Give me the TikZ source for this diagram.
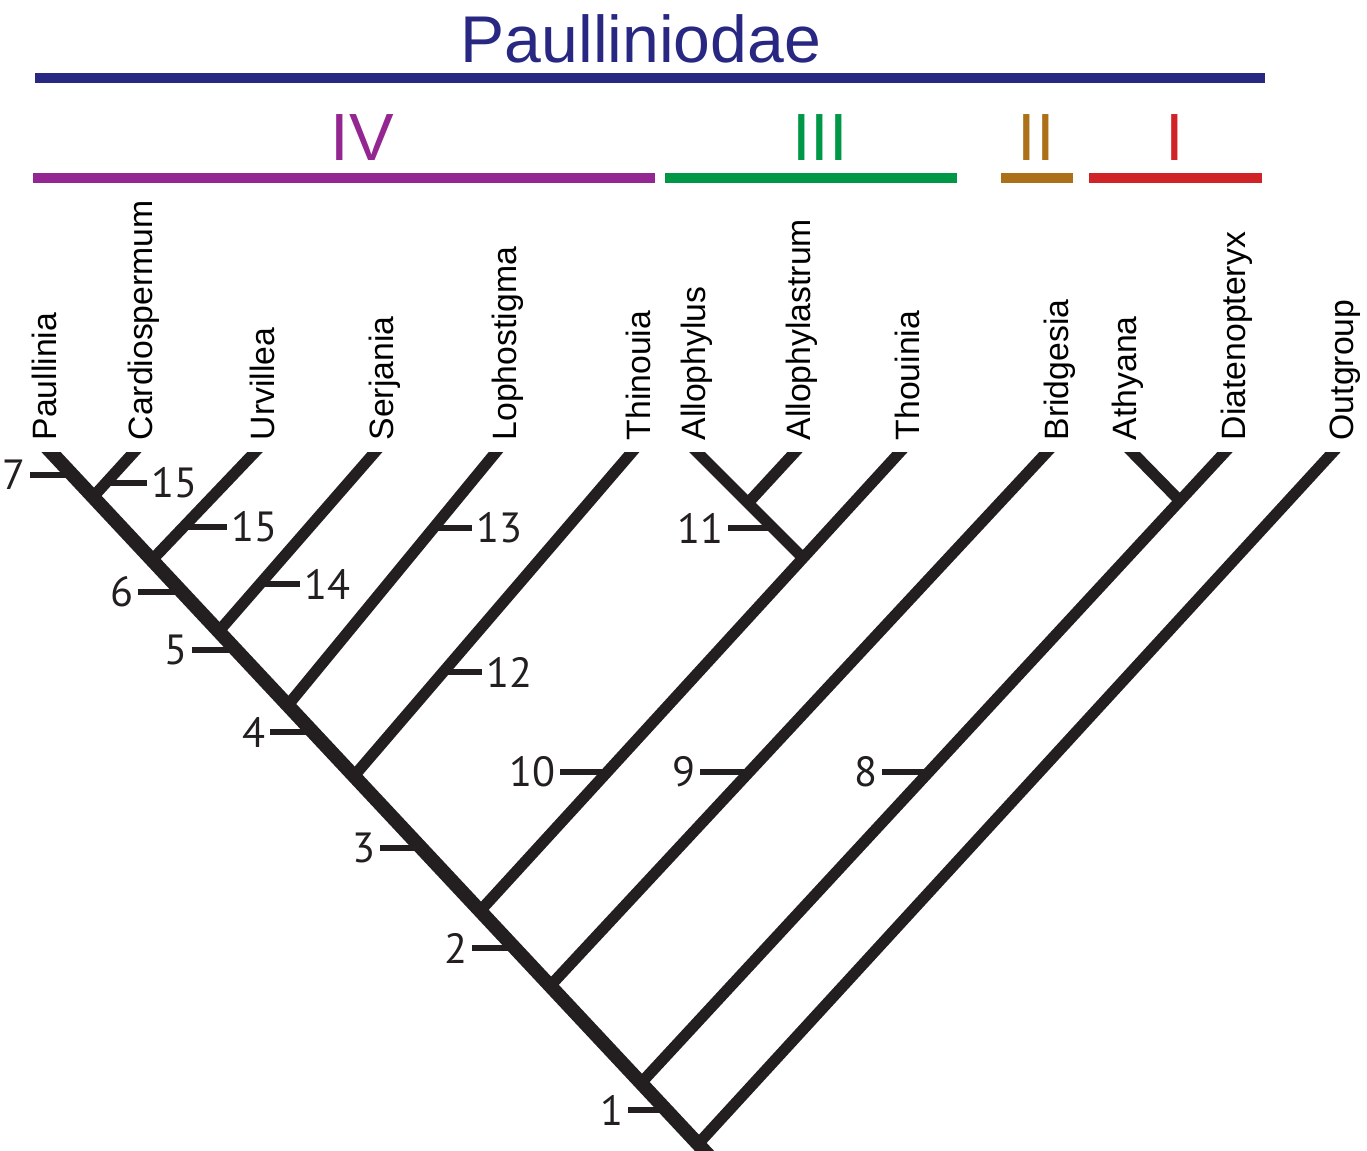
\documentclass[tikz,border=0pt]{standalone}
\usepackage{fontspec}
\setmainfont{Liberation Sans}
\newfontfamily\numfont{PT Sans}
\usetikzlibrary{positioning}
\definecolor{treeblack}{RGB}{35,31,32}
\definecolor{paulblue}{RGB}{40,40,130}
\definecolor{cladeIV}{RGB}{148,38,145}
\definecolor{cladeIII}{RGB}{0,152,70}
\definecolor{cladeII}{RGB}{172,112,25}
\definecolor{cladeI}{RGB}{208,35,40}
\tikzset{
    %Define style for the tree
    trunk/.style={
           line width=4pt,
           treeblack,
           shorten >=-6pt},
    branch/.style={
           line width=3.2pt,
           treeblack,
           shorten >=-6pt},
    % synapomorphy ticks
    apo/.style={
           line width=1.6pt,
           treeblack},
    apolab/.style={
           font=\numfont\fontsize{12}{13}\selectfont,
           text=treeblack,
           inner sep=0.6pt},
    taxon/.style={
           rotate=90,
           anchor=base west,
           inner sep=0pt,
           font=\fontsize{9.6}{11}\selectfont},
    % clade bars
    cladebar/.style={
           line width=3.1pt},
    cladelab/.style={
           anchor=base,
           inner sep=0pt,
           font=\fontsize{19}{22}\selectfont}
}
\begin{document}
\begin{tikzpicture}[x=0.01cm,y=-0.01cm]
  \useasboundingbox (0,0) rectangle (1367,1150);

  % subfamily and clades
  \node[cladelab, text=paulblue, font=\fontsize{18.8}{22}\selectfont] (paul) at (641,62) {Paulliniodae};
  \draw[cladebar, paulblue] (35,78) -- (1265,78);
  \node[cladelab, text=cladeIV] (IV) at (362,160) {IV};
  \draw[cladebar, cladeIV] (33,178) -- (655,178);
  \node[cladelab, text=cladeIII] (III) at (820,160) {III};
  \draw[cladebar, cladeIII] (665,178) -- (957,178);
  \node[cladelab, text=cladeII] (II) at (1036,160) {II};
  \draw[cladebar, cladeII] (1001,178) -- (1073,178);
  \node[cladelab, text=cladeI] (I) at (1175,160) {I};
  \draw[cladebar, cladeI] (1089,178) -- (1262,178);

  % taxa
  \node[taxon] (lPau) at (57,441) {Paullinia};
  \node[taxon] (lCar) at (152,441) {Cardiospermum};
  \node[taxon] (lUrv) at (274,441) {Urvillea};
  \node[taxon] (lSer) at (393,441) {Serjania};
  \node[taxon] (lLop) at (516,441) {Lophostigma};
  \node[taxon] (lThn) at (650,441) {Thinouia};
  \node[taxon] (lAll) at (705,441) {Allophylus};
  \node[taxon] (lAls) at (810,441) {Allophylastrum};
  \node[taxon] (lTho) at (919,441) {Thouinia};
  \node[taxon] (lBri) at (1068,441) {Bridgesia};
  \node[taxon] (lAth) at (1136,441) {Athyana};
  \node[taxon] (lDia) at (1245,441) {Diatenopteryx};
  \node[taxon] (lOut) at (1353,441) {Outgroup};

  % tips
  \coordinate (pau) at (51,452);
  \coordinate (car) at (134,452);
  \coordinate (urv) at (255,452);
  \coordinate (ser) at (375,452);
  \coordinate (lop) at (496,452);
  \coordinate (thn) at (632,452);
  \coordinate (all) at (697,452);
  \coordinate (als) at (795,452);
  \coordinate (tho) at (900,452);
  \coordinate (bri) at (1047,452);
  \coordinate (ath) at (1132,452);
  \coordinate (dia) at (1225,452);
  \coordinate (out) at (1333,452);
  % joins on the trunk
  \coordinate (base) at (713,1160);
  \coordinate (jCar) at (93,497);
  \coordinate (jUrv) at (152,560);
  \coordinate (jSer) at (219,631);
  \coordinate (jLop) at (288,705);
  \coordinate (jThn) at (354,776);
  \coordinate (jTho) at (480,911);
  \coordinate (jBri) at (550,986);
  \coordinate (jDia) at (641,1083);
  \coordinate (jOut) at (698,1144);
  % joins inside clades
  \coordinate (jAll) at (748,503);
  \coordinate (jAT) at (803,558);
  \coordinate (jAD) at (1180,501);

  % synapomorphies
  \foreach \ax/\ay/\ex/\lab/\side [count=\i] in {
      72/475/30/7/east, 106/483/147/15/west, 183/527/227/15/west,
      182/592/138/6/east, 261/584/300/14/west, 236/650/192/5/east,
      313/732/270/4/east, 434/528/472/13/west, 443/672/482/12/west,
      773/528/728/11/east, 607/772/560/10/east, 749/772/700/9/east,
      929/772/882/8/east, 421/848/380/3/east, 515/948/472/2/east,
      666/1110/628/1/east}
    \draw[apo] (\ax,\ay) -- (\ex,\ay) node[apolab, anchor=\side] (syn\i) {\lab};

  % tree
  \begin{scope}
    \clip (0,452) rectangle (1367,1150);
    \draw[branch] (jOut) -- (out);
    \draw[branch] (jDia) -- (dia);
    \draw[branch] (jAD) -- (ath);
    \draw[branch] (jBri) -- (bri);
    \draw[branch] (jTho) -- (tho);
    \draw[branch] (jAT) -- (all);
    \draw[branch] (jAll) -- (als);
    \draw[branch] (jThn) -- (thn);
    \draw[branch] (jLop) -- (lop);
    \draw[branch] (jSer) -- (ser);
    \draw[branch] (jUrv) -- (urv);
    \draw[branch] (jCar) -- (car);
    \draw[trunk] (base) -- (pau);
  \end{scope}
\end{tikzpicture}
\end{document}
